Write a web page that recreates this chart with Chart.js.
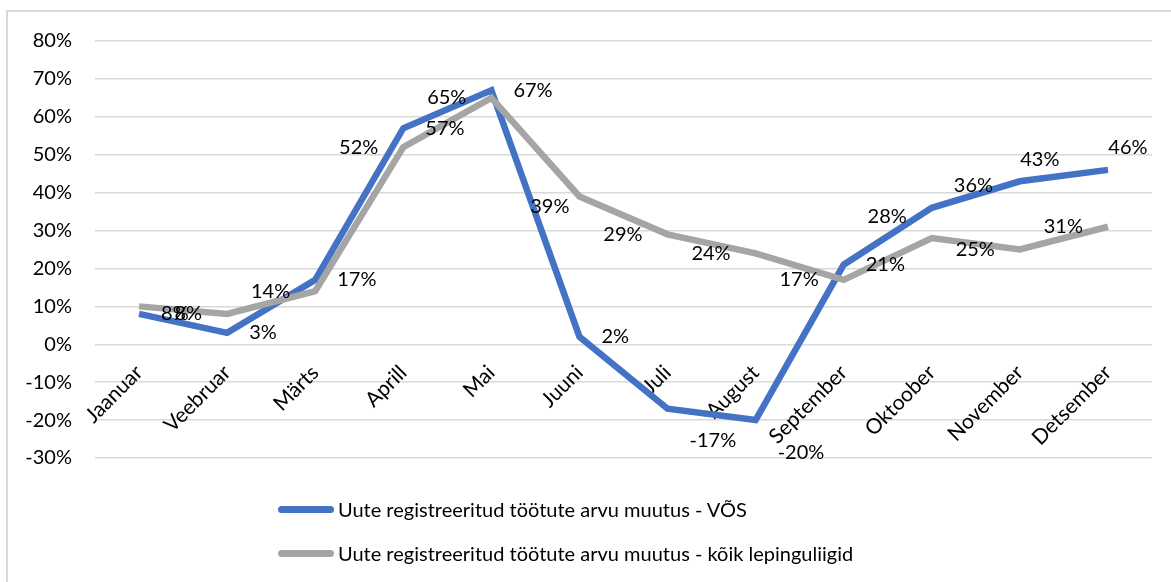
<!DOCTYPE html>
<html>
<head>
<meta charset="utf-8">
<script src="https://cdn.jsdelivr.net/npm/chart.js@4"></script>
<style>
  body { margin: 0; background: #fff; font-family: Lato, sans-serif; }
  #wrap { position: relative; width: 1171px; height: 582px; overflow: hidden; }
  #frame { position: absolute; left: 6px; top: 10px; width: 1200px; height: 600px; border: 2px solid #d9d9d9; }
  canvas { position: absolute; left: 0; top: 0; }
  #legend { position: absolute; left: 278px; top: 487px; font-size: 20px; color: #000; }
  .item { display: flex; align-items: center; height: 44px; }
  .swatch { width: 56px; height: 7px; border-radius: 4px; margin-right: 4px; }
</style>
</head>
<body>
<div id="wrap">
  <div id="frame"></div>
  <canvas id="chart" width="1171" height="582"></canvas>
  <div id="legend"></div>
</div>
<script>
const months = ["Jaanuar", "Veebruar", "Märts", "Aprill", "Mai", "Juuni", "Juli", "August", "September", "Oktoober", "November", "Detsember"]
const vosValues = [8, 3, 17, 57, 67, 2, -17, -20, 21, 36, 43, 46]
const allValues = [10, 8, 14, 52, 65, 39, 29, 24, 17, 28, 25, 31]
const vosLabel = "Uute registreeritud töötute arvu muutus - VÕS"
const allLabel = "Uute registreeritud töötute arvu muutus - kõik lepinguliigid"

// kus silt punkti suhtes paikneb (r = paremal, l = vasakul, a = üleval, b = all, lb = vasakul all)
const vosPlace = ["r", "r", "r", "r", "r", "r", "rb", "rb", "r", "ra", "a", "a"]
const allPlace = [null, "l", "l", "l", "l", "lb", "l", "l", "l", "la", "l", "l"]

const blue = "#4472C4"
const gray = "#A5A5A5"

// andmesiltide joonistamine (datalabels pluginat pole)
const pointLabels = {
  id: "pointLabels",
  afterDatasetsDraw(chart) {
    const ctx = chart.ctx
    ctx.save()
    ctx.font = "20px Lato"
    ctx.fillStyle = "#000"
    ctx.textBaseline = "middle"
    chart.data.datasets.forEach((ds, i) => {
      chart.getDatasetMeta(i).data.forEach((pt, j) => {
        const place = ds.labelPlace[j]
        if (!place) return
        let x = pt.x
        let y = pt.y
        if (place == "a") {
          ctx.textAlign = "center"
          x += 20
        } else if (place == "lb") {
          ctx.textAlign = "right"
          x -= 10
          y += 10
        } else if (place.includes("r")) {
          ctx.textAlign = "left"
          x += 22
        } else {
          ctx.textAlign = "right"
          x -= 25
        }
        if (place.includes("a")) y -= 22
        if (place.includes("b") && place != "lb") y += 32
        ctx.fillText(ds.data[j] + "%", x, y)
      })
    })
    ctx.restore()
  },
}

new Chart(document.getElementById("chart"), {
  type: "line",
  data: {
    labels: months,
    datasets: [
      {
        label: allLabel,
        data: allValues,
        borderColor: gray,
        borderWidth: 6.5,
        pointRadius: 0,
        tension: 0,
        labelPlace: allPlace,
      },
      {
        label: vosLabel,
        data: vosValues,
        borderColor: blue,
        borderWidth: 6.5,
        pointRadius: 0,
        tension: 0,
        labelPlace: vosPlace,
      },
    ],
  },
  options: {
    responsive: false,
    animation: false,
    layout: { padding: { top: 41, left: 0, right: 19, bottom: 124 } },
    plugins: {
      legend: { display: false },
      tooltip: { enabled: false },
    },
    scales: {
      x: {
        position: { y: 0 },
        offset: true,
        grid: { display: false, drawTicks: false },
        border: { display: false },
        ticks: {
          color: "#000",
          font: { family: "Lato", size: 21 },
          minRotation: 45,
          maxRotation: 45,
          padding: 16,
        },
      },
      y: {
        min: -30,
        max: 80,
        grid: { color: "#d9d9d9", lineWidth: 1.5, drawTicks: false },
        border: { display: false },
        ticks: {
          stepSize: 10,
          color: "#000",
          font: { family: "Lato", size: 20 },
          padding: 23,
          callback: (v) => v + "%",
        },
        afterFit: (scale) => { scale.width = 95 },
      },
    },
  },
  plugins: [pointLabels],
})

// legend kahel real nagu originaalis
const legend = document.getElementById("legend")
;[[vosLabel, blue], [allLabel, gray]].forEach(([text, color]) => {
  const item = document.createElement("div")
  item.className = "item"
  item.innerHTML = `<span class="swatch" style="background:${color}"></span><span>${text}</span>`
  legend.appendChild(item)
})
</script>
</body>
</html>
